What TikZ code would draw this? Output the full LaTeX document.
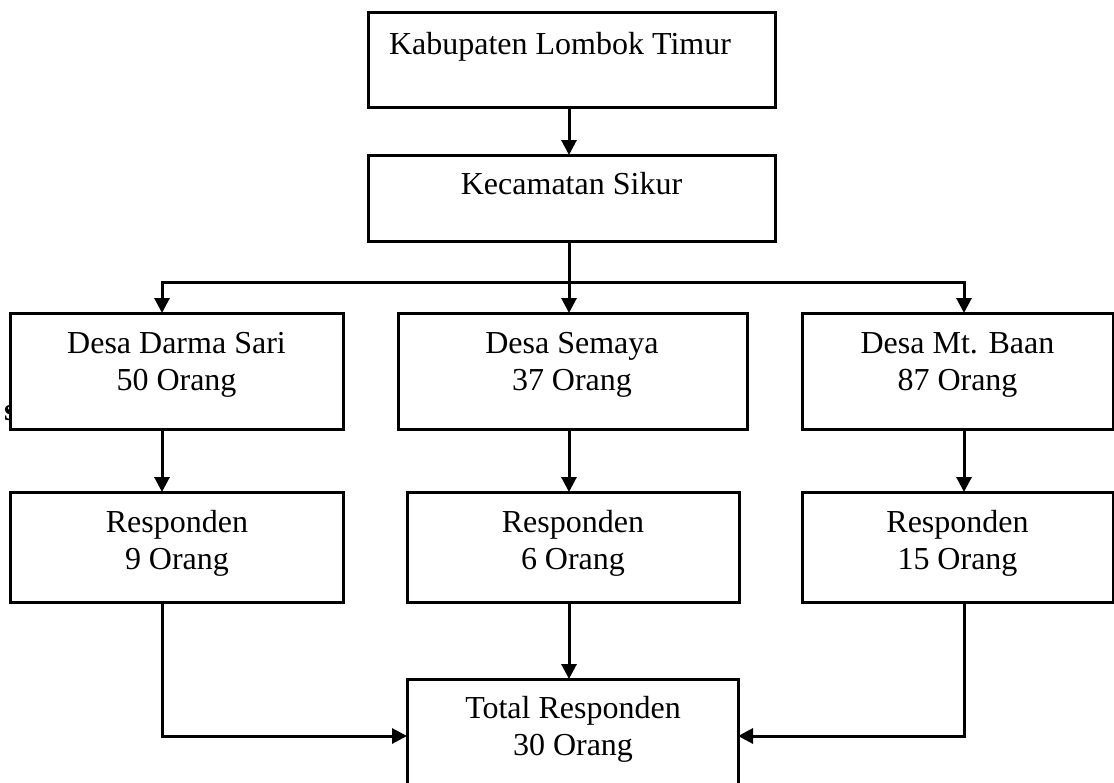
\documentclass[tikz,border=0pt]{standalone}
\usepackage{fontspec}
\setmainfont{Liberation Serif}
\usetikzlibrary{arrows.meta}
\tikzset{
  box/.style={draw=black, fill=white, line width=3pt, inner sep=0pt, outer sep=0pt},
  lbl/.style={font=\fontsize{32}{37}\selectfont, align=center, inner sep=0pt, anchor=base, text=black},
  conn/.style={draw=black, line width=3pt},
  arr/.style={conn, -{Triangle[width=15pt,length=15pt]}}
}
\begin{document}
\begin{tikzpicture}[x=1pt, y=-1pt]
\clip (0,0) rectangle (1114,782);
\fill[white] (0,0) rectangle (1114,782);
% partially hidden stray letter
\node[font=\fontsize{32}{37}\selectfont\bfseries, inner sep=0pt, anchor=base west] (stray) at (4,420) {s};
% boxes
\node[box, minimum width=407pt, minimum height=95pt] (kab) at (571.5,59.5) {};
\node[box, minimum width=407pt, minimum height=86pt] (kec) at (571.5,198) {};
\node[box, minimum width=333pt, minimum height=116pt] (dar) at (176.5,371) {};
\node[box, minimum width=349pt, minimum height=116pt] (sem) at (572.5,371) {};
\node[box, minimum width=311pt, minimum height=116pt] (baan) at (957.5,371) {};
\node[box, minimum width=333pt, minimum height=110pt] (r1) at (176.5,547) {};
\node[box, minimum width=332pt, minimum height=110pt] (r2) at (573,547) {};
\node[box, minimum width=311pt, minimum height=110pt] (r3) at (957.5,547) {};
\node[box, minimum width=331pt, minimum height=114pt] (tot) at (572.5,736) {};
% labels (anchor base = baseline of last line)
\node[lbl] (kabt) at (560,54) {Kabupaten Lombok Timur};
\node[lbl] (kect) at (571.5,194) {Kecamatan Sikur};
\node[lbl] (dart) at (176.5,390) {Desa Darma Sari\\50 Orang};
\node[lbl] (semt) at (572,390) {Desa Semaya\\37 Orang};
\node[lbl] (baant) at (957.5,390) {Desa Mt. Baan\\87 Orang};
\node[lbl] (r1t) at (177,569) {Responden\\9 Orang};
\node[lbl] (r2t) at (573,569) {Responden\\6 Orang};
\node[lbl] (r3t) at (957.5,569) {Responden\\15 Orang};
\node[lbl] (tott) at (573,755) {Total Responden\\30 Orang};
% column coordinates
\coordinate (cL) at (162,282);
\coordinate (cM) at (569,282);
\coordinate (cR) at (964,282);
% connectors
\draw[arr] (kab.south -| cM) -- (kec.north -| cM);
\draw[conn] (kec.south -| cM) -- (cM);
\draw[conn, line cap=rect] (cL) -- (cR);
\draw[arr] (cL) -- (dar.north -| cL);
\draw[arr] (cM) -- (sem.north -| cM);
\draw[arr] (cR) -- (baan.north -| cR);
\draw[arr] (dar.south -| cL) -- (r1.north -| cL);
\draw[arr] (sem.south -| cM) -- (r2.north -| cM);
\draw[arr] (baan.south -| cR) -- (r3.north -| cR);
\draw[arr] (r1.south -| cL) |- (tot.west);
\draw[arr] (r2.south -| cM) -- (tot.north -| cM);
\draw[arr] (r3.south -| cR) |- (tot.east);
\end{tikzpicture}
\end{document}
